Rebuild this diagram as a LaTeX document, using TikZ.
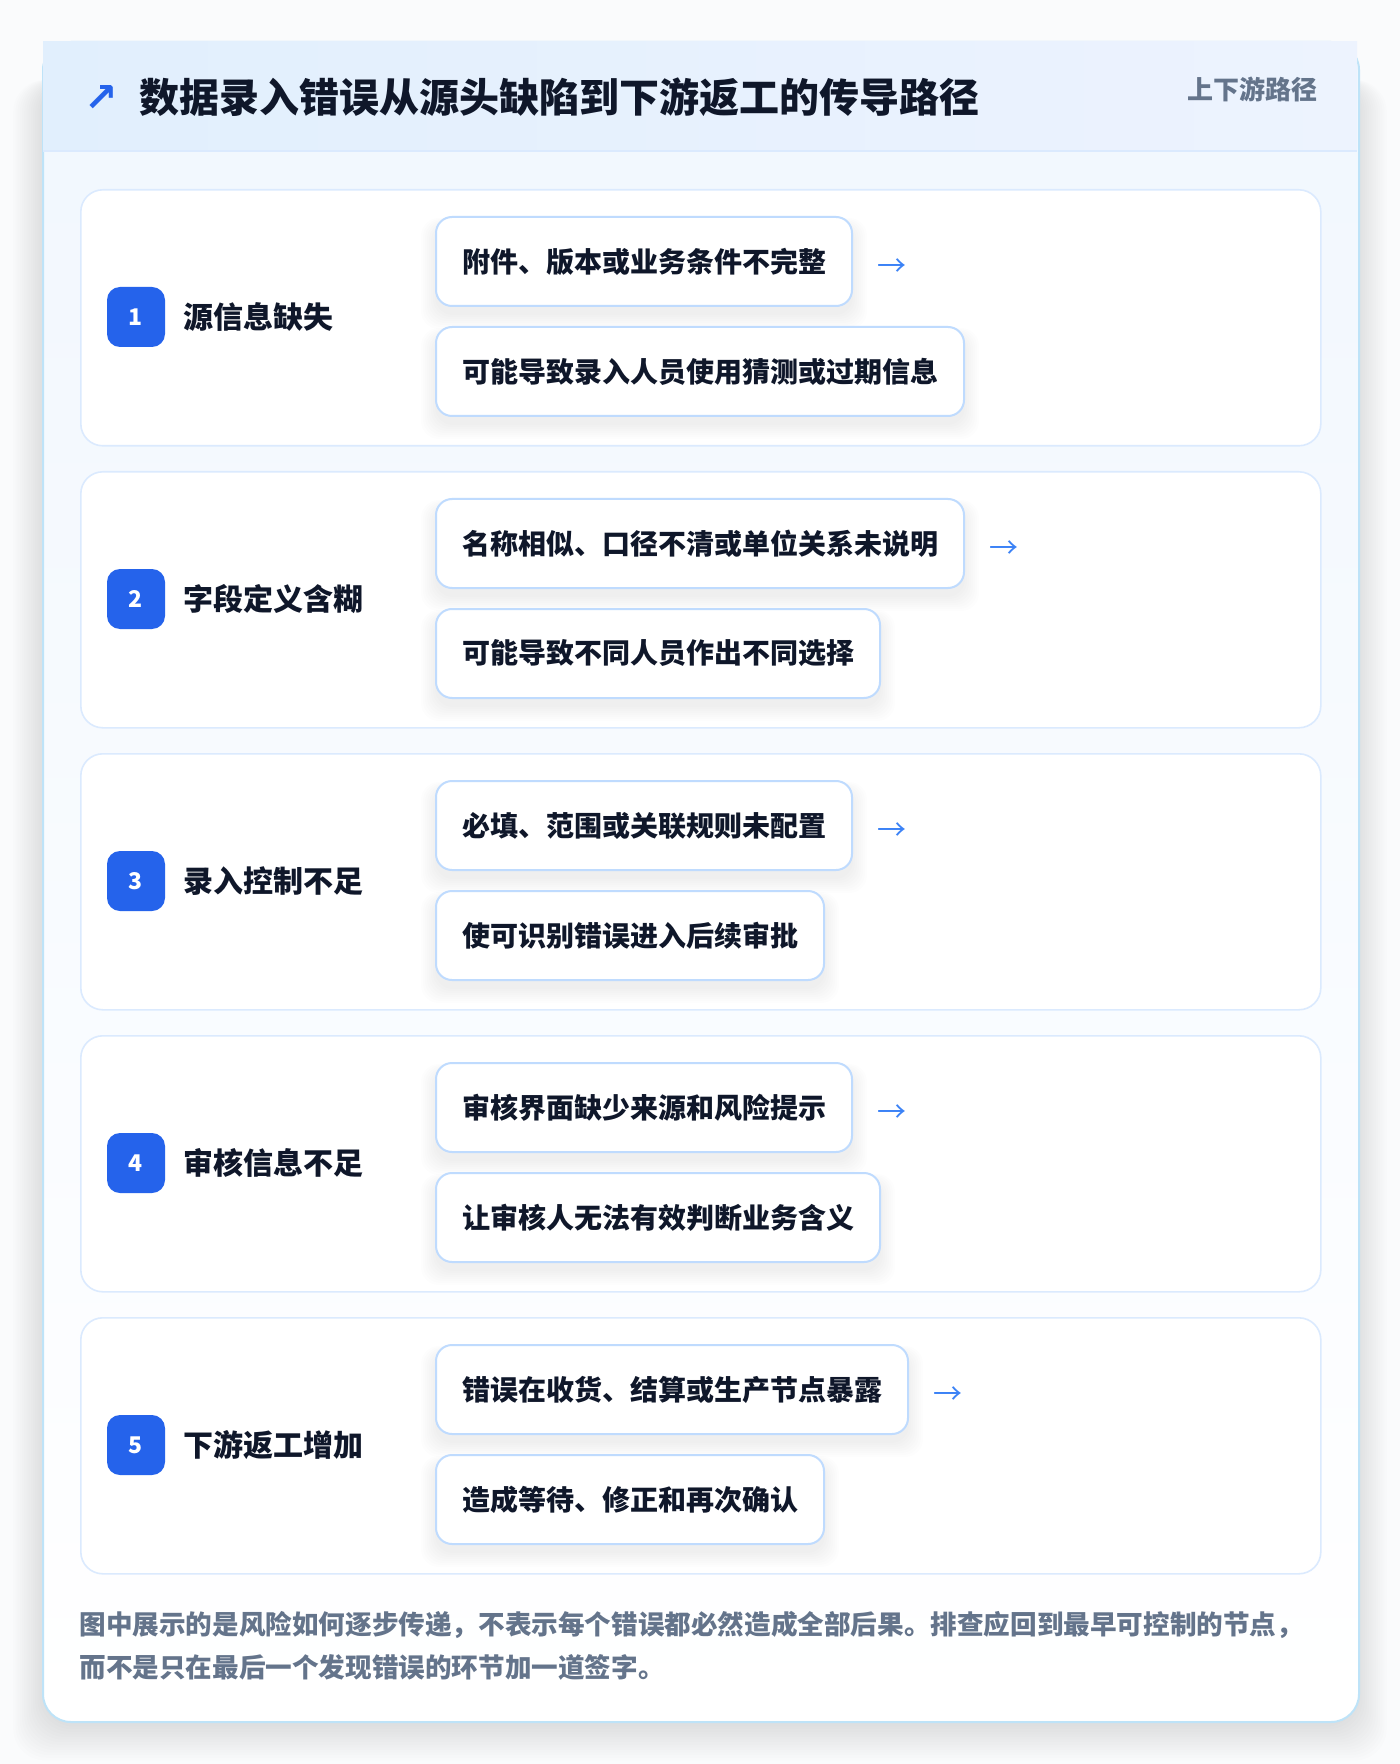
\documentclass[tikz,border=0pt]{standalone}
\usepackage{fontspec}
\setmainfont{Noto Sans CJK SC}
\newfontfamily\symfont{DejaVu Sans}
\usetikzlibrary{calc}
\definecolor{titlec}{HTML}{0F172A}
\definecolor{badgec}{HTML}{2563EB}
\definecolor{arrowc}{HTML}{3B82F6}
\definecolor{mutedc}{HTML}{64748B}
\definecolor{cardline}{HTML}{DBEAFE}
\definecolor{boxline}{HTML}{BFDBFE}
\definecolor{outerline}{HTML}{BEE3F8}
\definecolor{hdrL}{HTML}{E1EFFD}
\definecolor{hdrR}{HTML}{EDF3FE}
\definecolor{pagebg}{HTML}{FAFBFC}
\definecolor{frameTop}{HTML}{F1F7FE}
\definecolor{shadowc}{HTML}{1E293B}
\pgfdeclarelayer{fshd}
\pgfdeclarelayer{bg}
\pgfdeclarelayer{shd}
\pgfsetlayers{fshd,bg,shd,main}
\tikzset{
  frame/.style={draw=outerline, line width=1pt, rounded corners=14pt,
    top color=frameTop, bottom color=white, minimum width=658pt, minimum height=840pt,
    inner sep=0pt},
  card/.style={draw=cardline, line width=0.8pt, rounded corners=11pt, fill=white,
    minimum width=620pt, minimum height=128pt, inner sep=0pt},
  stepbox/.style={draw=boxline, line width=1pt, rounded corners=8pt, fill=white,
    minimum height=44.5pt, inner xsep=13pt, inner ysep=0pt, text=titlec,
    font=\fontsize{14pt}{16pt}\selectfont\bfseries},
  badge/.style={fill=badgec, rounded corners=6.5pt, minimum width=29pt, minimum height=30pt,
    inner sep=0pt, text=white, font=\fontsize{11.5pt}{13pt}\selectfont\bfseries},
  steplabel/.style={anchor=west, inner sep=0pt, text=titlec, font=\fontsize{15pt}{17pt}\selectfont\bfseries},
  arrowglyph/.style={anchor=west, inner sep=0pt, text=arrowc, font=\fontsize{14.5pt}{16pt}\selectfont},
  foot/.style={anchor=west, inner sep=0pt, text=mutedc, font=\fontsize{13.3pt}{16pt}\selectfont\bfseries}
}
% soft shadow under a node: #1 node name
\newcommand\boxshadow[1]{%
  \begin{pgfonlayer}{shd}
  \foreach \k in {1,...,8}{%
    \fill[shadowc, opacity=0.008, rounded corners=9pt]
      ($(#1.north west)+(-2*\k+2,10-\k)$) rectangle ($(#1.south east)+(2*\k-2,6+2*\k)$);
  }
  \end{pgfonlayer}}
\begin{document}
\begin{tikzpicture}[x=0.5pt,y=-0.5pt]
\useasboundingbox (0,0) rectangle (1400,1764);
% page and frame shadow
\begin{pgfonlayer}{fshd}
\fill[pagebg] (0,0) rectangle (1400,1764);
\foreach \k in {1,...,14}{%
  \fill[shadowc, opacity=0.006, rounded corners=16pt]
    (44-2.2*\k,80) rectangle (1356+2.2*\k,1724+2.6*\k);
}
\end{pgfonlayer}
\begin{pgfonlayer}{bg}
\node[frame, anchor=north west] (frame) at (42,41) {};
% header band
\fill[left color=hdrL, right color=hdrR] (43,42) rectangle (1357,151);
\draw[cardline, line width=1pt] (43,151) -- (1357,151);
\end{pgfonlayer}
\node[inner sep=0pt, text=badgec, font=\symfont\fontsize{20pt}{22pt}\selectfont\bfseries] (icon) at (101,99) {↗};
\node[anchor=west, inner sep=0pt, text=titlec, font=\fontsize{20pt}{22pt}\selectfont\bfseries] (title) at (139,97) {数据录入错误从源头缺陷到下游返工的传导路径};
\node[anchor=east, inner sep=0pt, text=mutedc, font=\fontsize{13pt}{15pt}\selectfont\bfseries] (tag) at (1318,89) {上下游路径};
% step cards
\foreach \i/\lab/\a/\b in {
  1/源信息缺失/附件、版本或业务条件不完整/可能导致录入人员使用猜测或过期信息,
  2/字段定义含糊/名称相似、口径不清或单位关系未说明/可能导致不同人员作出不同选择,
  3/录入控制不足/必填、范围或关联规则未配置/使可识别错误进入后续审批,
  4/审核信息不足/审核界面缺少来源和风险提示/让审核人无法有效判断业务含义,
  5/下游返工增加/错误在收货、结算或生产节点暴露/造成等待、修正和再次确认}{
  \pgfmathsetmacro\ct{189+282*(\i-1)}
  \begin{pgfonlayer}{bg}
  \node[card, anchor=north west] (card\i) at (80,\ct) {};
  \end{pgfonlayer}
  \node[badge] (badge\i) at (136,\ct+128) {\i};
  \node[steplabel] (lab\i) at (183,\ct+128) {\lab};
  \node[stepbox, anchor=west] (a\i) at (435,\ct+72.5) {\a};
  \node[stepbox, anchor=west] (b\i) at (435,\ct+182.5) {\b};
  \boxshadow{a\i}
  \boxshadow{b\i}
  \node[arrowglyph] (arr\i) at ([xshift=12pt,yshift=-3pt]a\i.east) {→};
}
\node[foot] (foot1) at (79,1625) {图中展示的是风险如何逐步传递，不表示每个错误都必然造成全部后果。排查应回到最早可控制的节点，};
\node[foot] (foot2) at (79,1667) {而不是只在最后一个发现错误的环节加一道签字。};
\end{tikzpicture}
\end{document}
